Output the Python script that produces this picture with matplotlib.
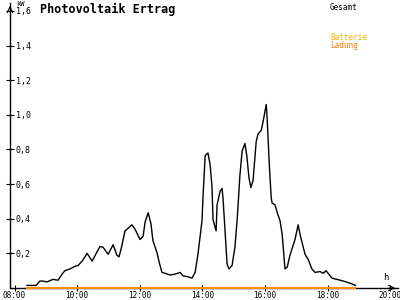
import matplotlib
matplotlib.use("Agg")
import matplotlib.pyplot as plt

# Photovoltaic output (kW), time in decimal hours
hours = [8.40, 8.69, 8.81, 8.91, 9.04, 9.23, 9.39, 9.52, 9.61, 9.77,
         9.93, 10.03, 10.16, 10.32, 10.48, 10.64, 10.73, 10.83, 10.99, 11.15,
         11.27, 11.34, 11.43, 11.53, 11.63, 11.75, 11.85, 12.01, 12.11, 12.17,
         12.27, 12.36, 12.42, 12.55, 12.62, 12.71, 12.81, 12.97, 13.13, 13.29,
         13.38, 13.54, 13.67, 13.77, 13.86, 13.99, 14.02, 14.09, 14.18, 14.25,
         14.31, 14.34, 14.44, 14.47, 14.57, 14.63, 14.66, 14.79, 14.85, 14.95,
         15.04, 15.11, 15.17, 15.20, 15.27, 15.36, 15.42, 15.49, 15.55, 15.62,
         15.72, 15.78, 15.88, 15.94, 16.04, 16.07, 16.14, 16.20, 16.23, 16.32,
         16.42, 16.48, 16.55, 16.64, 16.71, 16.80, 16.96, 17.06, 17.12, 17.28,
         17.38, 17.50, 17.60, 17.76, 17.86, 17.95, 18.14, 18.40, 18.60, 18.76,
         18.89]
gesamt = [0.015, 0.015, 0.04, 0.04, 0.035, 0.05, 0.045, 0.08, 0.10, 0.11,
          0.125, 0.13, 0.155, 0.20, 0.155, 0.21, 0.24, 0.235, 0.195, 0.25,
          0.19, 0.18, 0.245, 0.33, 0.345, 0.365, 0.34, 0.28, 0.30, 0.38,
          0.435, 0.37, 0.275, 0.205, 0.15, 0.09, 0.085, 0.075, 0.08, 0.09,
          0.07, 0.065, 0.057, 0.09, 0.195, 0.39, 0.52, 0.765, 0.78, 0.71,
          0.58, 0.395, 0.33, 0.48, 0.56, 0.575, 0.52, 0.14, 0.11, 0.13,
          0.235, 0.39, 0.56, 0.65, 0.79, 0.835, 0.765, 0.635, 0.58, 0.62,
          0.845, 0.89, 0.91, 0.96, 1.06, 0.98, 0.71, 0.52, 0.49, 0.48,
          0.42, 0.39, 0.31, 0.11, 0.12, 0.19, 0.28, 0.365, 0.31, 0.195,
          0.165, 0.11, 0.09, 0.095, 0.085, 0.10, 0.057, 0.045, 0.035, 0.025,
          0.015]
ladung = [0.0] * len(hours)

x_ticks = [8, 10, 12, 14, 16, 18, 20]
x_labels = ["08:00", "10:00", "12:00", "14:00", "16:00", "18:00", "20:00"]
y_ticks = [0.2, 0.4, 0.6, 0.8, 1.0, 1.2, 1.4, 1.6]
y_labels = ["0,2", "0,4", "0,6", "0,8", "1,0", "1,2", "1,4", "1,6"]

fig = plt.figure(figsize=(4, 3), dpi=100)
ax = fig.add_axes([0.025, 0.04, 0.97, 0.95])

ax.plot(hours, gesamt, color="black", lw=1.0)
ax.plot(hours, ladung, color="#ff8c00", lw=1.5, zorder=3, clip_on=False)

ax.set_xlim(7.856, 20.25)
ax.set_ylim(0, 1.646)

for s in ["top", "right"]:
    ax.spines[s].set_visible(False)
ax.spines["left"].set_linewidth(1)
ax.spines["bottom"].set_linewidth(1)

mono = "DejaVu Sans Mono"
ax.set_xticks(x_ticks)
ax.set_xticklabels(x_labels, fontsize=5.5, family=mono)
ax.set_yticks(y_ticks)
ax.set_yticklabels(y_labels, fontsize=6, family=mono)
ax.tick_params(axis="x", direction="inout", length=4, pad=0)
ax.tick_params(axis="y", direction="inout", length=6, pad=-7)
for lbl in ax.get_yticklabels():
    lbl.set_horizontalalignment("left")

# axis arrows
ax.annotate("", xy=(0, 1.0), xytext=(0, 0.97), xycoords="axes fraction",
            arrowprops=dict(arrowstyle="->", lw=0.8, color="black"))
ax.annotate("", xy=(1.0, 0), xytext=(0.97, 0), xycoords="axes fraction",
            arrowprops=dict(arrowstyle="->", lw=0.8, color="black"))

fig.text(0.04, 0.995, "kW", fontsize=5, family=mono, va="top")
fig.text(0.965, 0.065, "h", fontsize=6.5, family=mono, ha="center")
fig.text(0.10, 0.99, "Photovoltaik Ertrag", fontsize=8.5, family=mono,
         fontweight="bold", va="top")
fig.text(0.825, 0.99, "Gesamt", fontsize=5.5, family=mono, va="top")
fig.text(0.825, 0.89, "Batterie", fontsize=5.5, family=mono, va="top",
         color="#f0b000")
fig.text(0.825, 0.865, "Ladung", fontsize=5.5, family=mono, va="top",
         color="#f07800")

fig.savefig("out.png", dpi=100)
